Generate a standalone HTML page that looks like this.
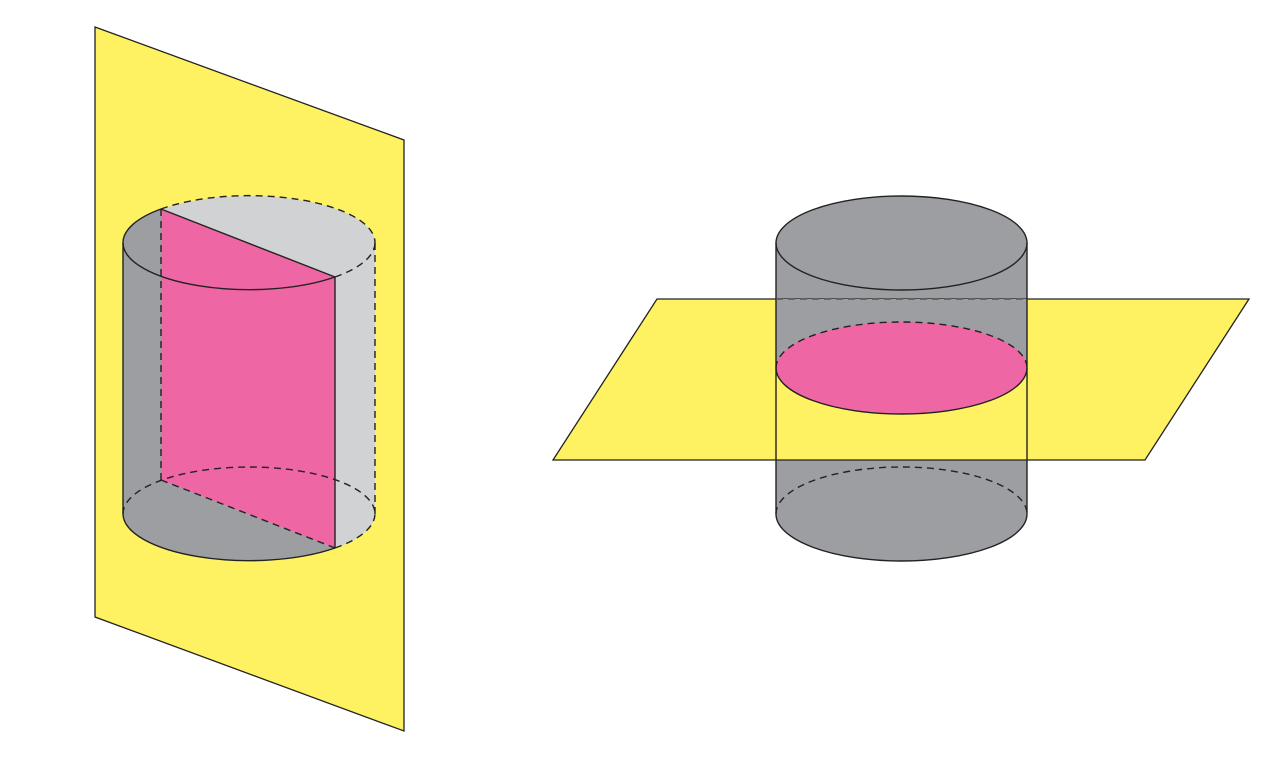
<!DOCTYPE html>
<html><head><style>html,body{margin:0;padding:0;background:#fff}svg{display:block}</style></head>
<body>
<svg width="1280" height="758" viewBox="0 0 1280 758" xmlns="http://www.w3.org/2000/svg">
<!-- LEFT -->
<polygon points="95,27 404,140 404,731 95,617" fill="#fef263" stroke="#222" stroke-width="1.3"/>
<path d="M123,243 A126,47 0 0 1 375,243 L375,514 A126,47 0 0 1 123,514 Z" fill="#d1d2d4"/>
<path d="M161,209 A126,47 0 0 0 123,243 L123,514 A126,47 0 0 0 335,548 L161,480 Z" fill="#9d9ea1"/>
<polygon points="161,209 335,277 335,548 161,480" fill="#ee66a4"/>
<g fill="none" stroke="#222" stroke-width="1.4">
<path d="M123,243 A126,47 0 0 1 161,209"/>
<path d="M161,209 A126,47 0 0 1 375,243" stroke-dasharray="7,5"/>
<path d="M123,243 A126,47 0 0 0 335,277"/>
<path d="M335,277 A126,47 0 0 0 375,243" stroke-dasharray="7,5"/>
<line x1="161" y1="209" x2="335" y2="277"/>
<line x1="123" y1="243" x2="123" y2="514"/>
<line x1="375" y1="243" x2="375" y2="514" stroke-dasharray="7,5"/>
<line x1="161" y1="209" x2="161" y2="480" stroke-dasharray="7,5"/>
<line x1="335" y1="277" x2="335" y2="548"/>
<path d="M123,514 A126,47 0 0 1 375,514" stroke-dasharray="7,5"/>
<path d="M123,514 A126,47 0 0 0 335,548"/>
<path d="M335,548 A126,47 0 0 0 375,514" stroke-dasharray="7,5"/>
<line x1="161" y1="480" x2="335" y2="548" stroke-dasharray="7,5"/>
</g>
<!-- RIGHT -->
<path d="M776,243 A125.5,47 0 0 1 1027,243 L1027,514 A125.5,47 0 0 1 776,514 Z" fill="#9d9ea1"/>
<polygon points="657,299 1249,299 1145,460 553,460" fill="#fef263" stroke="#222" stroke-width="1.3"/>
<rect x="776" y="299" width="251" height="69" fill="#9d9ea1"/>
<ellipse cx="901.5" cy="368" rx="125.5" ry="46" fill="#ee66a4"/>
<g fill="none" stroke="#222" stroke-width="1.4">
<ellipse cx="901.5" cy="243" rx="125.5" ry="47"/>
<line x1="776" y1="243" x2="776" y2="514"/>
<line x1="1027" y1="243" x2="1027" y2="514"/>
<line x1="776" y1="299" x2="1027" y2="299" stroke="#555" stroke-dasharray="7,5"/>
<path d="M776,368 A125.5,46 0 0 1 1027,368" stroke-dasharray="7,5"/>
<path d="M776,368 A125.5,46 0 0 0 1027,368"/>
<path d="M776,514 A125.5,47 0 0 1 1027,514" stroke-dasharray="7,5"/>
<path d="M776,514 A125.5,47 0 0 0 1027,514"/>
</g>
</svg>
</body></html>
